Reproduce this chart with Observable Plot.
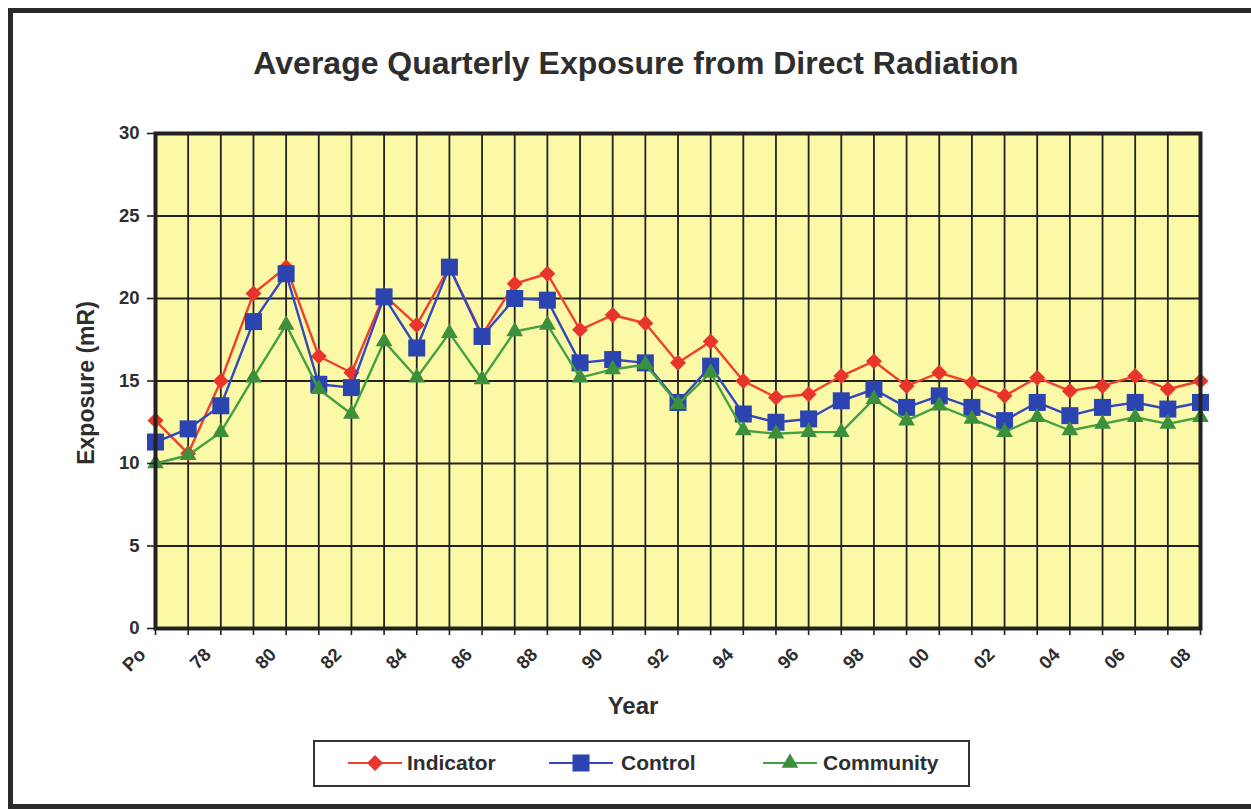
<!DOCTYPE html>
<html>
<head>
<meta charset="utf-8">
<script src="https://cdn.jsdelivr.net/npm/d3@7"></script>
<script src="https://cdn.jsdelivr.net/npm/@observablehq/plot@0.6"></script>
<style>
  body { margin: 0; background: #fff; }
  #page { position: relative; width: 1251px; height: 809px; overflow: hidden;
          font-family: "Liberation Sans", Arial, sans-serif; color: #2e2e2e; }
  #frame { position: absolute; left: 8px; top: 8px; width: 1300px; height: 791px;
           border: 5px solid #2a2a2a; }
  #title { position: absolute; left: 0; width: 1272px; top: 45px; text-align: center;
           font-size: 32px; font-weight: bold; white-space: nowrap; }
  #chart { position: absolute; left: 0; top: 100px; }
  #ylabel { position: absolute; left: 86px; top: 383px; transform: translate(-50%, -50%) rotate(-90deg);
            font-size: 23px; font-weight: bold; white-space: nowrap; }
  #xlabel { position: absolute; left: 633px; top: 692px; transform: translateX(-50%);
            font-size: 24px; font-weight: bold; }
  #legend { position: absolute; left: 313px; top: 740px; width: 653px; height: 43px;
            border: 2px solid #333; background: #fff; }
  .item { position: absolute; top: 0; height: 43px; }
  .item svg { position: absolute; top: 8px; left: 0; }
  .item span { position: absolute; top: 9px; font-size: 21px; font-weight: bold; white-space: nowrap; }
</style>
</head>
<body>
<div id="page">
  <div id="frame"></div>
  <div id="title">Average Quarterly Exposure from Direct Radiation</div>
  <div id="chart"></div>
  <div id="ylabel">Exposure (mR)</div>
  <div id="xlabel">Year</div>
  <div id="legend"></div>
</div>
<script>
// ---- data ----
const years = ["Po","77","78","79","80","81","82","83","84","85","86","87","88","89","90","91","92","93","94","95","96","97","98","99","00","01","02","03","04","05","06","07","08"];
const tickLabels = ["Po","78","80","82","84","86","88","90","92","94","96","98","00","02","04","06","08"];
const yTicks = [0, 5, 10, 15, 20, 25, 30];
const seriesNames = ["Indicator", "Control", "Community"];
const indicator = [12.6,10.6,15.0,20.3,21.9,16.5,15.5,20.2,18.4,21.9,17.8,20.9,21.5,18.1,19.0,18.5,16.1,17.4,15.0,14.0,14.2,15.3,16.2,14.7,15.5,14.9,14.1,15.2,14.4,14.7,15.3,14.5,15.0];
const control   = [11.3,12.1,13.5,18.6,21.5,14.8,14.6,20.1,17.0,21.9,17.7,20.0,19.9,16.1,16.3,16.1,13.7,15.9,13.0,12.5,12.7,13.8,14.5,13.4,14.1,13.4,12.6,13.7,12.9,13.4,13.7,13.3,13.7];
const community = [10.0,10.5,11.9,15.2,18.4,14.5,13.0,17.4,15.2,17.9,15.1,18.0,18.4,15.2,15.7,16.0,13.6,15.5,12.0,11.8,11.9,11.9,13.9,12.6,13.5,12.7,11.9,12.8,12.0,12.4,12.8,12.4,12.8];

// ---- styles ----
const styles = {
  Indicator: { line: "#f0402e", fill: "#e8352b", symbol: "diamond2", r: 7.2 },
  Control:   { line: "#3347c0", fill: "#2b44b0", symbol: "square",   r: 9.6 },
  Community: { line: "#43a043", fill: "#3c8f3c", symbol: "triangle", r: 6.2 }
};
const valuesByName = { Indicator: indicator, Control: control, Community: community };

const rowsFor = name => years.map((yr, i) => ({ idx: i, year: yr, value: valuesByName[name][i] }));
const labelSet = new Set(tickLabels);
const yearIdx = years.map((_, i) => i);

const seriesMarks = seriesNames.flatMap(name => {
  const s = styles[name];
  const rows = rowsFor(name);
  return [
    Plot.line(rows, { x: "idx", y: "value", stroke: s.line, strokeWidth: 2.4 }),
    Plot.dot(rows, { x: "idx", y: "value", symbol: () => s.symbol, fill: s.fill, stroke: "none", r: s.r })
  ];
});

const chart = Plot.plot({
  width: 1251,
  height: 630,
  marginLeft: 155,
  marginRight: 51,
  marginTop: 33,
  marginBottom: 102,
  x: { type: "linear", domain: [0, years.length - 1], label: null },
  y: { domain: [0, 30], label: null },
  symbol: { type: "identity" },
  style: { background: "transparent", fontFamily: "'Liberation Sans', Arial, sans-serif",
           fontSize: "18.5px", fontWeight: "bold", color: "#2e2e2e", overflow: "visible" },
  marks: [
    Plot.frame({ fill: "#fbf9a6" }),
    Plot.gridY(yTicks.slice(1, -1), { stroke: "#222", strokeOpacity: 1, strokeWidth: 1.8 }),
    Plot.gridX(yearIdx.slice(1, -1), { stroke: "#222", strokeOpacity: 1, strokeWidth: 1.8 }),
    ...seriesMarks,
    Plot.frame({ stroke: "#222", strokeWidth: 4 }),
    Plot.axisY({ ticks: yTicks, tickSize: 8, tickPadding: 8, stroke: "#222", strokeWidth: 1.6, label: null }),
    Plot.axisX({ ticks: yearIdx, tickSize: 7, tickFormat: () => "", stroke: "#222", strokeWidth: 1.6, label: null }),
    Plot.axisX({ ticks: yearIdx.filter(i => labelSet.has(years[i])), tickSize: 0, tickPadding: 23,
                 tickRotate: -45, dx: -13, tickFormat: i => years[i], label: null })
  ]
});
document.getElementById("chart").appendChild(chart);

// ---- legend ----
const legend = document.getElementById("legend");
const legendLayout = { Indicator: { left: 33, lineW: 54, textX: 92 },
                       Control:   { left: 234, lineW: 64, textX: 306 },
                       Community: { left: 448, lineW: 54, textX: 508 } };
const symMap = { diamond2: d3.symbolDiamond2, square: d3.symbolSquare, triangle: d3.symbolTriangle };
seriesNames.forEach(name => {
  const s = styles[name], L = legendLayout[name];
  const item = document.createElement("div");
  item.className = "item";
  item.style.left = L.left + "px";
  const svg = d3.create("svg").attr("width", L.lineW + 2).attr("height", 26);
  svg.append("line").attr("x1", 0).attr("x2", L.lineW).attr("y1", 13).attr("y2", 13)
     .attr("stroke", s.line).attr("stroke-width", 2);
  svg.append("path").attr("transform", `translate(${L.lineW / 2},13)`)
     .attr("d", d3.symbol(symMap[s.symbol], s.r * s.r * Math.PI)())
     .attr("fill", s.fill);
  item.appendChild(svg.node());
  const span = document.createElement("span");
  span.style.left = (L.textX - L.left) + "px";
  span.textContent = name;
  item.appendChild(span);
  legend.appendChild(item);
});
</script>
</body>
</html>
